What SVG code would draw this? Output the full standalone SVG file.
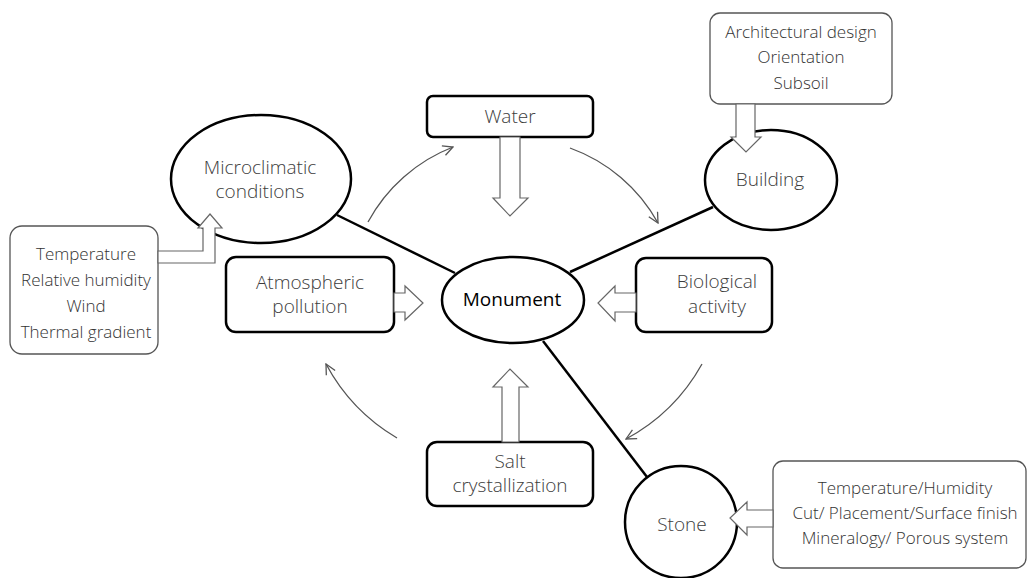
<svg xmlns="http://www.w3.org/2000/svg" width="1028" height="578" viewBox="0 0 1028 578">
  <defs>
    <style>
      .node { fill: #ffffff; stroke: #000000; stroke-width: 2.5; }
      .info { fill: #ffffff; stroke: #555555; stroke-width: 1.3; }
      .hollow { fill: #ffffff; stroke: #666666; stroke-width: 1.2; stroke-linejoin: miter; }
      .link { stroke: #000000; stroke-width: 2.5; fill: none; }
      .curve { stroke: #555555; stroke-width: 1.3; fill: none; }
      .lbl { font-family: "Open Sans", "Liberation Sans", sans-serif; font-size: 19px; fill: #3c3c3c; text-anchor: middle; font-weight: 300; }
      .small { font-family: "Open Sans", "Liberation Sans", sans-serif; font-size: 17px; fill: #333333; text-anchor: middle; font-weight: 300; }
      .main { font-family: "Open Sans", "Liberation Sans", sans-serif; font-size: 19px; fill: #000000; text-anchor: middle; }
    </style>
    <marker id="vhead" viewBox="0 0 12 12" refX="11" refY="6" markerWidth="12" markerHeight="12" markerUnits="userSpaceOnUse" orient="auto">
      <path d="M1,1 L11,6 L1,11" fill="none" stroke="#555555" stroke-width="1.3"/>
    </marker>
  </defs>

  <g id="connectors">
    <line class="link" x1="337" y1="215" x2="455" y2="273"/>
    <line class="link" x1="713" y1="207" x2="570" y2="272"/>
    <line class="link" x1="543" y1="341" x2="647" y2="477"/>
    <path class="curve" d="M368,222 A164,164 0 0 1 453,147" marker-end="url(#vhead)"/>
    <path class="curve" d="M570,148 A164,164 0 0 1 658,223" marker-end="url(#vhead)"/>
    <path class="curve" d="M702,364 A190,190 0 0 1 626,439" marker-end="url(#vhead)"/>
    <path class="curve" d="M397,438 A190,190 0 0 1 326,364" marker-end="url(#vhead)"/>
  </g>

  <g id="microclimatic">
    <ellipse class="node" cx="261" cy="179" rx="90" ry="64"/>
    <text class="lbl" x="260" y="174">Microclimatic</text>
    <text class="lbl" x="260" y="198">conditions</text>
  </g>

  <g id="temperature">
    <rect class="info" x="10" y="226" width="148" height="128" rx="12"/>
    <text class="small" x="86" y="260">Temperature</text>
    <text class="small" x="86" y="286">Relative humidity</text>
    <text class="small" x="86" y="312">Wind</text>
    <text class="small" x="86" y="338">Thermal gradient</text>
  </g>

  <g id="water">
    <rect class="node" x="427" y="96" width="166" height="41" rx="6"/>
    <text class="lbl" x="510" y="123">Water</text>
  </g>

  <g id="architectural">
    <rect class="info" x="710" y="13" width="182" height="91" rx="10"/>
    <text class="small" x="801" y="38">Architectural design</text>
    <text class="small" x="801" y="63">Orientation</text>
    <text class="small" x="801" y="89">Subsoil</text>
  </g>

  <g id="building">
    <ellipse class="node" cx="771" cy="180" rx="66" ry="50"/>
    <text class="lbl" x="770" y="186">Building</text>
  </g>

  <g id="atmospheric">
    <rect class="node" x="226" y="257" width="168" height="75" rx="10"/>
    <text class="lbl" x="310" y="289">Atmospheric</text>
    <text class="lbl" x="310" y="313">pollution</text>
  </g>

  <g id="monument">
    <ellipse class="node" cx="513" cy="300" rx="71" ry="43"/>
    <text class="main" x="512" y="306">Monument</text>
  </g>

  <g id="biological">
    <rect class="node" x="636" y="258" width="136" height="74" rx="10"/>
    <text class="lbl" x="717" y="288">Biological</text>
    <text class="lbl" x="717" y="313">activity</text>
  </g>

  <g id="salt">
    <rect class="node" x="427" y="442" width="166" height="64" rx="10"/>
    <text class="lbl" x="510" y="468">Salt</text>
    <text class="lbl" x="510" y="492">crystallization</text>
  </g>

  <g id="stone">
    <circle class="node" cx="681" cy="522" r="56"/>
    <text class="lbl" x="682" y="531">Stone</text>
  </g>

  <g id="stone-factors">
    <rect class="info" x="773" y="461" width="253" height="107" rx="10"/>
    <text class="small" x="905" y="494">Temperature/Humidity</text>
    <text class="small" x="905" y="519">Cut/ Placement/Surface finish</text>
    <text class="small" x="905" y="544">Mineralogy/ Porous system</text>
  </g>

  <g id="block-arrows">
    <polygon class="hollow" points="158,251 203,251 203,228 198,228 210,214 222,228 215,228 215,263 158,263"/>
    <polygon class="hollow" points="500,137 520,137 520,198 528,198 510,216 493,198 500,198"/>
    <polygon class="hollow" points="736,104 755,104 755,137 761,137 746,152 731,137 736,137"/>
    <polygon class="hollow" points="394,293 405,293 405,286 423,303 405,320 405,312 394,312"/>
    <polygon class="hollow" points="636,293 615,293 615,286 598,303 615,321 615,312 636,312"/>
    <polygon class="hollow" points="502,442 502,387 493,387 510,369 528,387 519,387 519,442"/>
    <polygon class="hollow" points="773,510 747,510 747,502 730,518 747,535 747,527 773,527"/>
  </g>
</svg>
